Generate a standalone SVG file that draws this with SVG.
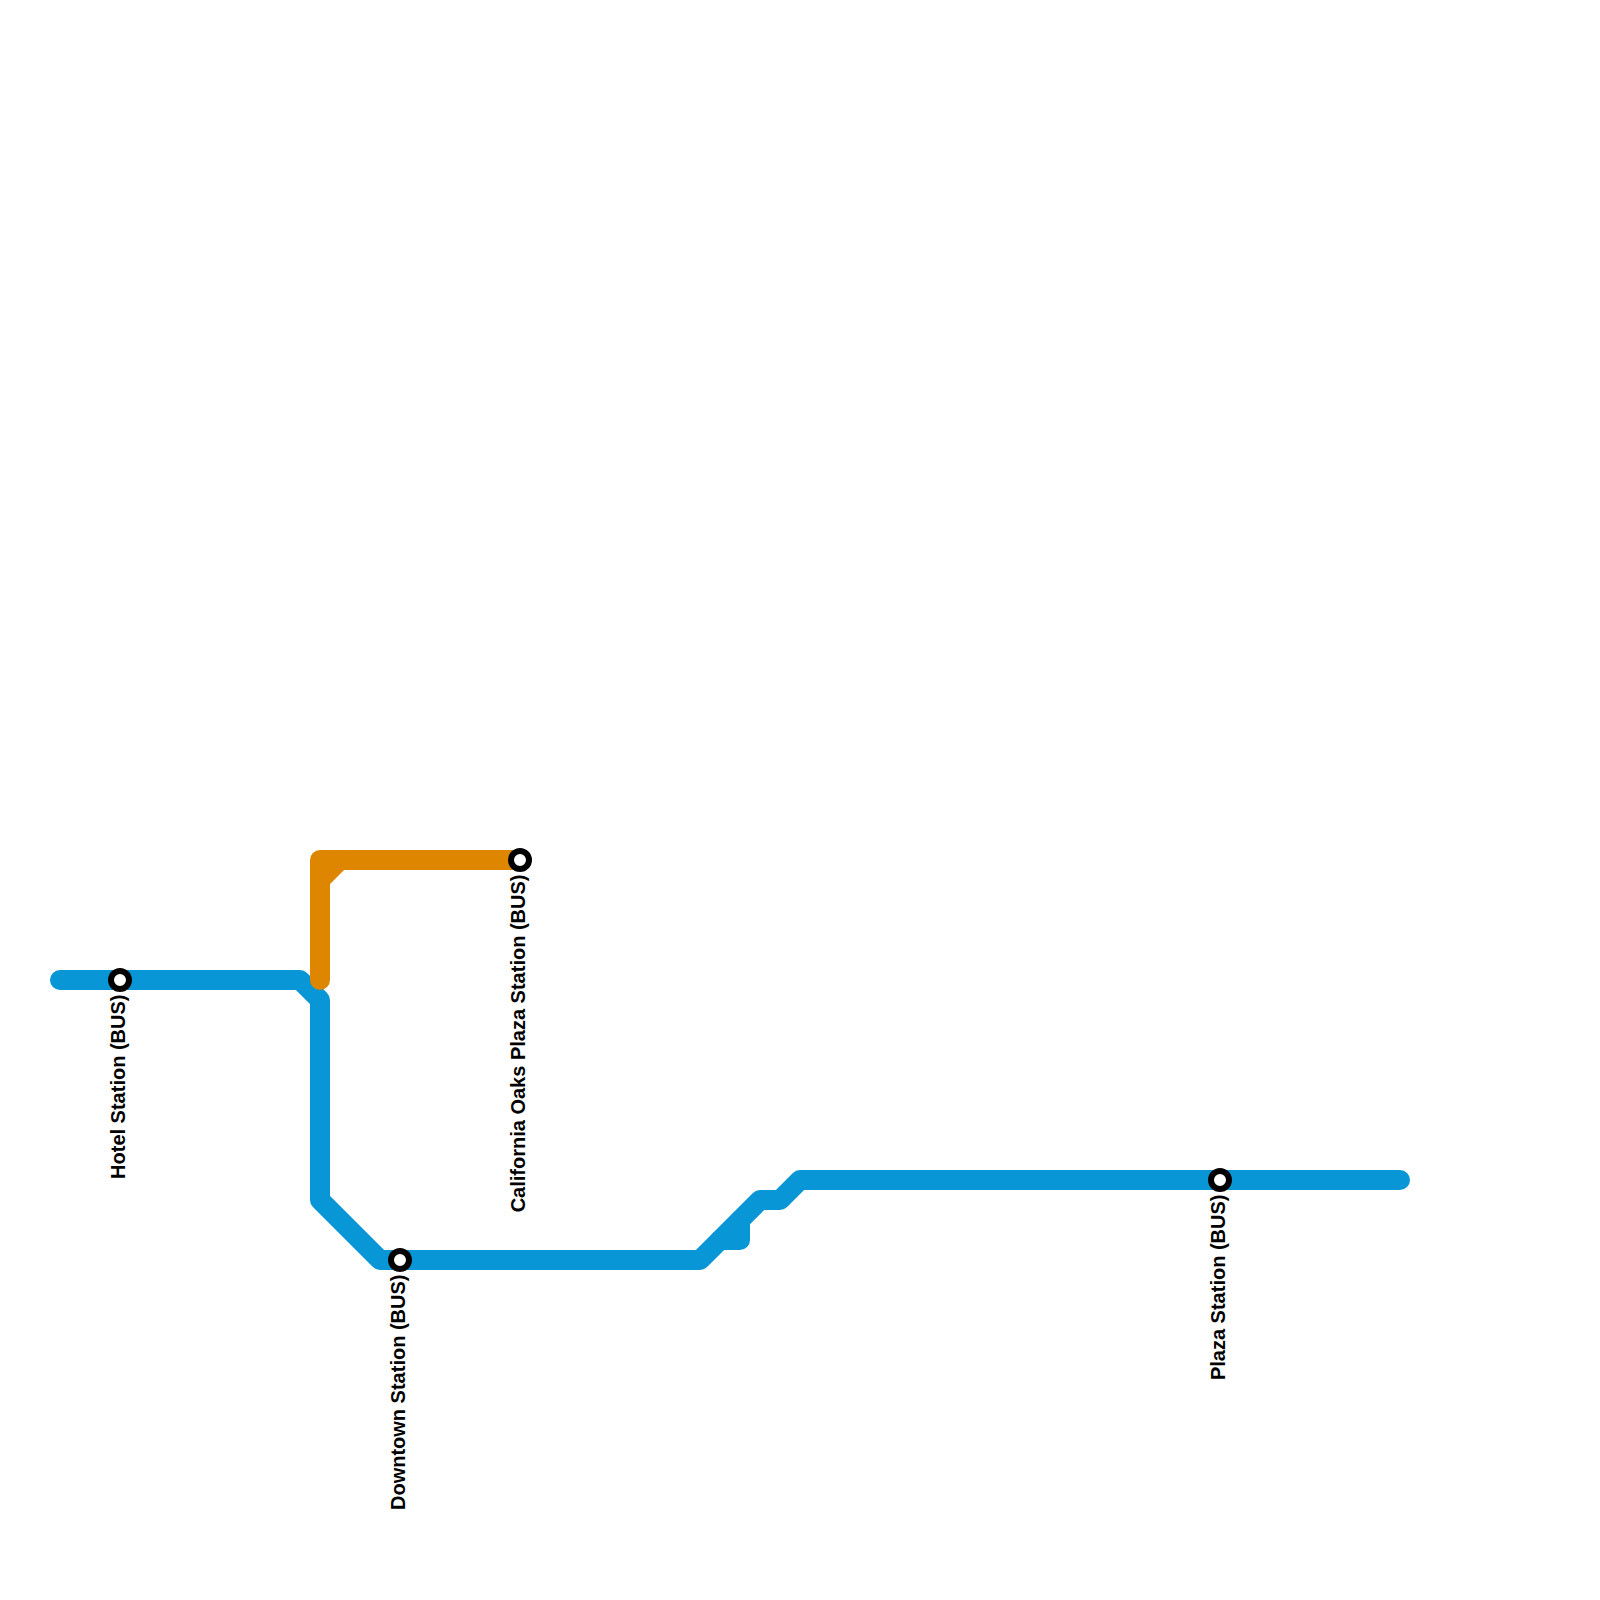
<svg xmlns="http://www.w3.org/2000/svg" width="1600" height="1600" viewBox="0 0 1600 1600">
<style>
.line{fill:none;stroke-width:20;stroke-linecap:round;stroke-linejoin:round}
.blue{stroke:#0896d7}
.orange{stroke:#df8600}
.st{fill:#fff;stroke:#000;stroke-width:6}
.lb{font-family:"Liberation Sans",Arial,sans-serif;font-weight:700;font-size:20px;fill:#000;text-anchor:end}
</style>
<rect width="1600" height="1600" fill="#fff"/>
<g id="connectors">
<path class="line blue" d="M60 980H300L320 1000V1200L380 1260H700L760 1200H780L800 1180H1400"/>
<path class="line blue" d="M720 1240H740V1220"/>
<path class="line orange" d="M320 980V860H520"/>
<path class="line orange" d="M320 880L340 860"/>
</g>
<g id="hotel"><circle class="st" cx="120" cy="980" r="9"/><text class="lb" transform="translate(125 994.5) rotate(-90)">Hotel Station (BUS)</text></g>
<g id="downtown"><circle class="st" cx="400" cy="1260" r="9"/><text class="lb" transform="translate(405 1274.5) rotate(-90)">Downtown Station (BUS)</text></g>
<g id="california"><circle class="st" cx="520" cy="860" r="9"/><text class="lb" transform="translate(525 874.5) rotate(-90)">California Oaks Plaza Station (BUS)</text></g>
<g id="plaza"><circle class="st" cx="1220" cy="1180" r="9"/><text class="lb" transform="translate(1225 1194.5) rotate(-90)">Plaza Station (BUS)</text></g>
</svg>
